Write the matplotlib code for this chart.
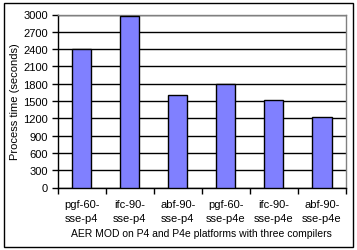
import matplotlib.pyplot as plt
import numpy as np
from matplotlib.patches import Rectangle

categories = ["pgf-60-\nsse-p4", "ifc-90-\nsse-p4", "abf-90-\nsse-p4",
              "pgf-60-\nsse-p4e", "ifc-90-\nsse-p4e", "abf-90-\nsse-p4e"]
process_time = [2400, 2970, 1610, 1800, 1510, 1230]
y_ticks = list(range(0, 3001, 300))

plt.rcParams["font.family"] = ["Liberation Sans", "DejaVu Sans"]
fs = 8

W, H = 357, 251
fig = plt.figure(figsize=(W / 100, H / 100), dpi=100, facecolor="white")
# plot area in pixels: left 57.5, right 346, top 15.5, bottom 188.5
ax = fig.add_axes([57.5 / W, 1 - 188.5 / H, (346 - 57.5) / W, (188.5 - 15.5) / H])

x = np.arange(len(categories))
ax.bar(x, process_time, width=0.4, color="#8080FF", edgecolor="black",
       linewidth=1.0, zorder=3)

ax.set_xlim(-0.5, len(categories) - 0.5)
ax.set_ylim(0, 3000)
ax.set_yticks(y_ticks)
ax.set_yticklabels([str(t) for t in y_ticks], fontsize=fs)
ax.yaxis.grid(True, color="black", linewidth=1.0, zorder=0)
ax.set_axisbelow(True)

ax.set_xticks(x)
ax.set_xticklabels(categories, fontsize=fs, linespacing=1.6)
ax.set_xticks(np.arange(-0.5, len(categories)), minor=True)
ax.tick_params(axis="x", which="major", length=0, pad=8)
ax.tick_params(axis="x", which="minor", length=4, direction="out", width=1)
ax.tick_params(axis="y", length=4, direction="out", width=1, pad=3)

for side in ["top", "right"]:
    ax.spines[side].set_color("#808080")
    ax.spines[side].set_linewidth(1.0)
for side in ["left", "bottom"]:
    ax.spines[side].set_color("black")
    ax.spines[side].set_linewidth(1.0)

ax.set_ylabel("Process time (seconds)", fontsize=fs)
ax.yaxis.set_label_coords(-38 / (346 - 57.5), 0.5)
ax.set_xlabel("AER MOD on P4 and P4e platforms with three compilers",
              fontsize=fs - 0.5, labelpad=3)

fig.patches.append(Rectangle((3.5 / W, 3.5 / H), (352.5 - 3.5) / W, (247 - 3.5) / H,
                             transform=fig.transFigure, fill=False,
                             edgecolor="black", linewidth=1.0))

fig.savefig("out.png", dpi=100, facecolor="white")
